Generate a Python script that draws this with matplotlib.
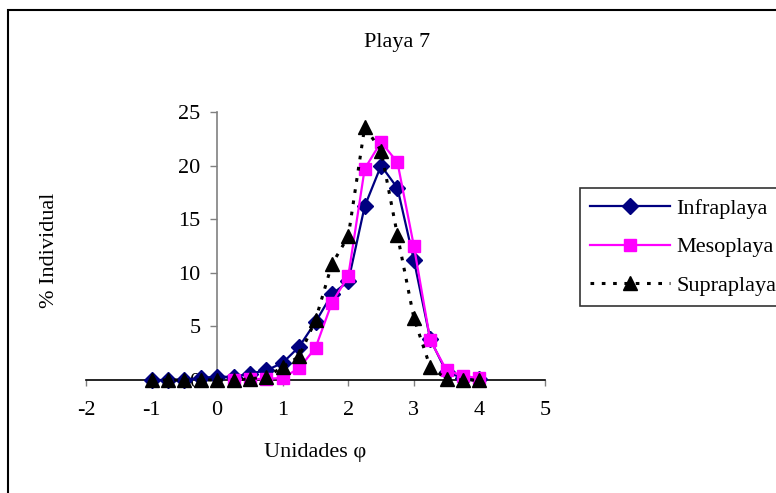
import matplotlib
matplotlib.use('Agg')
import matplotlib.pyplot as plt
from matplotlib.patches import Rectangle

plt.rcParams['font.family'] = ['Liberation Serif', 'DejaVu Serif']
plt.rcParams['axes.unicode_minus'] = False

phi = [-1, -0.75, -0.5, -0.25, 0, 0.25, 0.5, 0.75, 1, 1.25, 1.5, 1.75,
       2, 2.25, 2.5, 2.75, 3, 3.25, 3.5, 3.75, 4]
infraplaya = [0.0, 0.0, 0.0, 0.2, 0.3, 0.3, 0.6, 0.9, 1.6, 3.1, 5.4, 8.0,
              9.2, 16.2, 20.0, 17.9, 11.2, 3.8, 0.7, 0.2, 0.1]
mesoplaya = [None, None, None, None, None, 0.0, 0.1, 0.1, 0.2, 1.1, 3.0, 7.2,
             9.7, 19.7, 22.2, 20.3, 12.5, 3.7, 0.9, 0.4, 0.15]
supraplaya = [0.0, 0.0, 0.0, 0.0, 0.0, 0.0, 0.1, 0.3, 1.2, 2.2, 5.6, 10.8,
              13.4, 23.6, 21.4, 13.5, 5.8, 1.2, 0.1, 0.0, 0.0]

W, H = 776, 493
fig = plt.figure(figsize=(W / 100, H / 100), dpi=100)
ax = fig.add_axes([86 / W, 1 - 380 / H, (545 - 86) / W, (380 - 112) / H])

fs = 16

# mesoplaya has no values below 0.25 phi
mx = [x for x, y in zip(phi, mesoplaya) if y is not None]
my = [y for y in mesoplaya if y is not None]

ax.plot(phi, infraplaya, '-', color='#000080', lw=1.6, marker='D', ms=8,
        label='Infraplaya', clip_on=False, zorder=3)
ax.plot(mx, my, '-', color='#FF00FF', lw=1.6, marker='s', ms=8.5,
        label='Mesoplaya', clip_on=False, zorder=4)
ax.plot(phi, supraplaya, linestyle=(0, (1.2, 2.5)), color='black', lw=2.2,
        marker='^', ms=10, label='Supraplaya', clip_on=False, zorder=5)

ax.set_xlim(-2, 5)
ax.set_ylim(0, 25)
ax.set_xticks(range(-2, 6))
ax.set_yticks([0, 5, 10, 15, 20, 25])
ax.spines['top'].set_visible(False)
ax.spines['right'].set_visible(False)
ax.spines['left'].set_position(('data', 0))
ax.spines['left'].set_color('#808080')
ax.spines['left'].set_linewidth(1.2)
ax.spines['bottom'].set_linewidth(1.2)
ax.tick_params(axis='x', direction='out', length=4, width=1, pad=11,
               labelsize=fs, color='#808080')
ax.tick_params(axis='y', direction='out', length=5, width=1, pad=7,
               labelsize=fs, color='#808080')

fig.text(397 / W, 1 - 42 / H, 'Playa 7', ha='center', va='center', fontsize=fs)
fig.text(315 / W, 1 - 452 / H, 'Unidades φ', ha='center', va='center', fontsize=fs)
fig.text(49 / W, 1 - 250 / H, '% Individual', ha='center', va='center',
         rotation=90, fontsize=fs)

leg = fig.legend(loc='upper left', bbox_to_anchor=(580 / W, 1 - 188 / H),
                 fontsize=fs, frameon=True, fancybox=False, handlelength=3.6,
                 handletextpad=0.3, labelspacing=0.82, borderpad=0.45,
                 borderaxespad=0)
leg.get_frame().set_edgecolor('black')
leg.get_frame().set_linewidth(1.2)

# outer chart border, cut by the image edge
fig.patches.append(Rectangle((8 / W, -0.1), 1.2, 1 - 10 / H + 0.1,
                             transform=fig.transFigure, fill=False,
                             edgecolor='black', lw=1.5))

fig.savefig('out.png', dpi=100)
